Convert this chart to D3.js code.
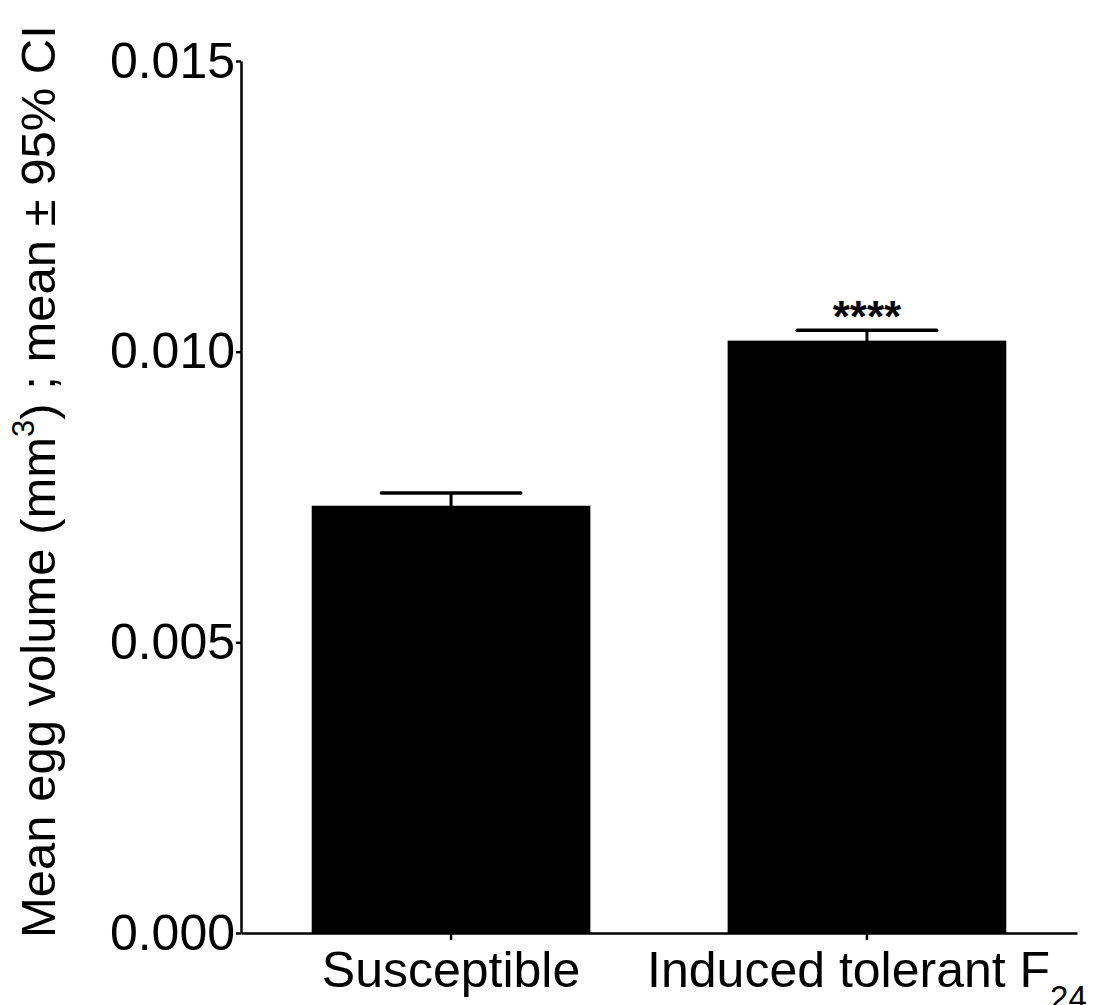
<!DOCTYPE html>
<html>
<head>
<meta charset="utf-8">
<script src="https://cdn.jsdelivr.net/npm/d3@7"></script>
<style>
  body { margin: 0; background: #fff; }
  text { font-family: "Liberation Sans", Arial, sans-serif; fill: #000; }
</style>
</head>
<body>
<div id="chart"></div>
<script>
// values
var groups = ["Susceptible", "Induced tolerant F24"];
var labelMain = ["Susceptible", "Induced tolerant F"];
var labelSub = ["", "24"];
var means = [0.00735, 0.01019];
var ciUpper = [0.00757, 0.01037];
var stars = ["", "****"];
var yTicks = [0.000, 0.005, 0.010, 0.015];

var dataset = groups.map(function(g, i) {
    return {group: g, main: labelMain[i], sub: labelSub[i], mean: means[i], hi: ciUpper[i], star: stars[i]};
});

var fullwidth = 1097,
    fullheight = 1005,
    margin = {top: 61, right: 20, bottom: 72, left: 241},
    width = fullwidth - margin.left - margin.right,
    height = fullheight - margin.top - margin.bottom;

var svg = d3.select("#chart")
    .append("svg")
    .attr("width", fullwidth)
    .attr("height", fullheight)
    .append("g")
    .attr("transform", "translate(" + margin.left + "," + margin.top + ")");

var xScale = d3.scaleBand()
    .domain(groups)
    .range([0, width])
    .paddingInner(0.33)
    .paddingOuter(0.17);

var yScale = d3.scaleLinear()
    .domain([0, 0.015])
    .range([height, 0]);

var bw = xScale.bandwidth();

// bars
svg.append("g").selectAll("rect.bar")
    .data(dataset)
    .enter().append("rect")
    .attr("class", "bar")
    .attr("x", function(d) { return xScale(d.group); })
    .attr("width", bw)
    .attr("y", function(d) { return yScale(d.mean); })
    .attr("height", function(d) { return height - yScale(d.mean); })
    .attr("fill", "#000");

// upper CI whiskers
var err = svg.append("g")
    .attr("stroke", "#000")
    .attr("stroke-linecap", "round");

err.selectAll("line.stem")
    .data(dataset)
    .enter().append("line")
    .attr("x1", function(d) { return xScale(d.group) + bw / 2; })
    .attr("x2", function(d) { return xScale(d.group) + bw / 2; })
    .attr("y1", function(d) { return yScale(d.mean); })
    .attr("y2", function(d) { return yScale(d.hi); })
    .attr("stroke-width", 3);

err.selectAll("line.cap")
    .data(dataset)
    .enter().append("line")
    .attr("x1", function(d) { return xScale(d.group) + bw / 4; })
    .attr("x2", function(d) { return xScale(d.group) + bw * 3 / 4; })
    .attr("y1", function(d) { return yScale(d.hi); })
    .attr("y2", function(d) { return yScale(d.hi); })
    .attr("stroke-width", 3.5);

// significance stars
svg.selectAll("text.star")
    .data(dataset)
    .enter().append("text")
    .attr("x", function(d) { return xScale(d.group) + bw / 2; })
    .attr("y", function(d) { return yScale(d.hi) + 2; })
    .attr("text-anchor", "middle")
    .style("font-size", "44px")
    .style("font-weight", "bold")
    .text(function(d) { return d.star; });

// axes
var yAxis = d3.axisLeft(yScale)
    .tickValues(yTicks)
    .tickFormat(d3.format(".3f"))
    .tickSize(5)
    .tickPadding(1)
    .tickSizeOuter(0);

var yAxisEle = svg.append("g")
    .attr("class", "y axis")
    .call(yAxis);
yAxisEle.selectAll("text")
    .style("font-size", "50px")
    .attr("font-family", null);
yAxisEle.selectAll("path, line").attr("stroke-width", 2.5);

var xAxis = d3.axisBottom(xScale)
    .tickFormat("")
    .tickSize(7)
    .tickSizeOuter(0);

var xAxisEle = svg.append("g")
    .attr("class", "x axis")
    .attr("transform", "translate(0," + height + ")")
    .call(xAxis);
xAxisEle.selectAll("path, line").attr("stroke-width", 2.5);

var xLabels = svg.append("g").selectAll("text.xlab")
    .data(dataset)
    .enter().append("text")
    .attr("class", "xlab")
    .attr("x", function(d) { return xScale(d.group) + bw / 2; })
    .attr("y", height + 54)
    .attr("text-anchor", "middle")
    .style("font-size", "50px");
xLabels.append("tspan").text(function(d) { return d.main; });
xLabels.append("tspan")
    .attr("dy", 22)
    .style("font-size", "33px")
    .text(function(d) { return d.sub; });

// y axis title
var yTitle = yAxisEle.append("text")
    .attr("transform", "translate(" + (55 - margin.left) + "," + (height + 5) + ") rotate(-90)")
    .attr("text-anchor", "start")
    .style("fill", "black")
    .style("font-size", "49px");
yTitle.append("tspan").text("Mean egg volume (mm");
yTitle.append("tspan").attr("dy", -21).style("font-size", "31px").text("3");
yTitle.append("tspan").attr("dy", 21).text(") ; mean \u00b1 95% CI");
</script>
</body>
</html>
